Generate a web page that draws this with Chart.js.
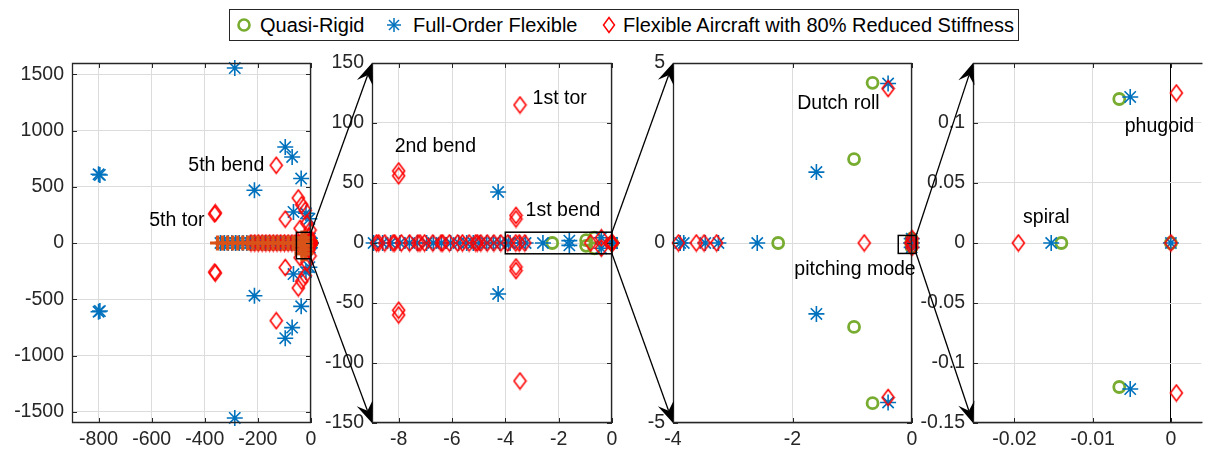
<!DOCTYPE html>
<html>
<head>
<meta charset="utf-8">
<script src="https://cdn.jsdelivr.net/npm/chart.js@4.4.1/dist/chart.umd.min.js"></script>
<style>
  body { margin: 0; background: #fff; width: 1211px; height: 449px; overflow: hidden; position: relative;
         font-family: "Liberation Sans", Arial, Helvetica, sans-serif; }
  canvas { position: absolute; top: 0; }
  #legend { position: absolute; left: 229px; top: 9px; width: 788px; height: 30px; border: 1px solid #262626; background: #fff; z-index: 20; }
  #legend .item { position: absolute; top: 0; height: 30px; line-height: 30px; font-size: 20px; color: #000; white-space: nowrap; }
  #legend svg { position: absolute; top: 7px; }
</style>
</head>
<body>
<div id="legend"></div>
<script>
// ---- data (pole locations, [real, imag]) ----
const seriesNames = ['Quasi-Rigid', 'Full-Order Flexible', 'Flexible Aircraft with 80% Reduced Stiffness'];

const quasiRigid = [
  [-2.24, 0], [-0.97, 2.33], [-0.97, -2.33], [-0.66, 4.45], [-0.66, -4.45],
  [-0.014, 0], [-0.0066, 0.12], [-0.0066, -0.12], [0, 0]
];

const fullOrderFlexible = [
  [-800, 611], [-800, -611], [-795, 605], [-795, -605], [-287, 1555], [-287, -1555],
  [-97, 854], [-97, -846], [-71, 765], [-71, -752], [-213, 469], [-213, -469],
  [-37, 573], [-37, -563], [-66, 276], [-66, -276], [-19, 264], [-19, -258], [-6, 215], [-6, -215],
  [-341, 0], [-326, 0], [-312, 0], [-298, 0], [-284, 0], [-270, 0], [-256, 0], [-242, 0], [-228, 0],
  [-214, 0], [-200, 0], [-186, 0], [-172, 0], [-158, 0], [-144, 0], [-130, 0], [-116, 0], [-102, 0],
  [-88, 0], [-74, 0], [-60, 0], [-46, 0], [-32, 0], [-20, 0],
  [-4.27, 42.5], [-4.27, -42.5],
  [-8.94, 0], [-8.6, 0], [-8.3, 0], [-7.95, 0], [-7.6, 0], [-7.3, 0], [-6.95, 0], [-6.7, 0], [-6.4, 0],
  [-6.05, 0], [-5.75, 0], [-5.45, 0], [-5.2, 0], [-4.95, 0], [-4.7, 0], [-4.45, 0], [-4.2, 0],
  [-3.88, 0], [-3.82, 0], [-3.46, 0], [-3.24, 0], [-2.59, 0],
  [-1.6, 1.97], [-1.6, -1.97], [-0.4, 4.43], [-0.4, -4.43],
  [-0.0153, 0], [-0.0052, 0.1217], [-0.0052, -0.1217], [0, 0]
];

const reducedStiffness = [
  [-131, 691], [-131, -691], [-360, 267], [-360, -267], [-363, 258], [-363, -258],
  [-48, 400], [-48, -400], [-35, 340], [-35, -340], [-22, 291], [-22, -291],
  [-97, 212], [-97, -218], [-16, 175], [-16, -175], [-41, 130], [-41, -130],
  [-226, 0], [-212, 0], [-198, 0], [-184, 0], [-170, 0], [-156, 0], [-142, 0], [-128, 0],
  [-114, 0], [-100, 0], [-86, 0], [-72, 0], [-60, 0], [-50, 0],
  [-8.0, 60], [-8.0, -60], [-8.0, 56], [-8.0, -56], [-3.45, 115], [-3.45, -115],
  [-3.6, 23], [-3.6, -23], [-3.6, 20], [-3.6, -20],
  [-8.83, 0], [-8.75, 0], [-8.52, 0], [-8.21, 0], [-8.15, 0], [-7.9, 0], [-7.59, 0], [-7.28, 0],
  [-7.2, 0], [-7.03, 0], [-6.72, 0], [-6.41, 0], [-6.35, 0], [-6.1, 0], [-5.79, 0], [-5.61, 0],
  [-5.36, 0], [-5.11, 0], [-5.05, 0], [-4.92, 0], [-4.68, 0], [-4.43, 0], [-4.17, 0],
  [-3.91, 0], [-3.61, 0], [-3.48, 0], [-3.27, 0],
  [-0.8, 0], [-0.4, 4.29], [-0.4, -4.29],
  [-0.0195, 0], [0.0007, 0.125], [0.0007, -0.125], [0, 0]
];

// extra markers only shown in the first (full view) panel
const fullViewExtra = [
  [-352, 0], [-333, 0], [-314, 0], [-295, 0], [-276, 0], [-257, 0], [-238, 0], [-219, 0],
  [-200, 0], [-181, 0], [-162, 0], [-143, 0], [-124, 0], [-105, 0], [-86, 0], [-67, 0],
  [-34, 45], [-20, 45], [-34, 10], [-20, 10], [-34, -25], [-20, -25],
  [-34, -60], [-20, -60], [-34, -95], [-20, -95]
];

// axis ticks per panel
const xTicks1 = [-800, -600, -400, -200, 0];
const yTicks1 = [-1500, -1000, -500, 0, 500, 1000, 1500];
const xTicks2 = [-8, -6, -4, -2, 0];
const yTicks2 = [-150, -100, -50, 0, 50, 100, 150];
const xTicks3 = [-4, -2, 0];
const yTicks3 = [-5, 0, 5];
const xTicks4 = [-0.02, -0.01, 0];
const yTicks4 = [-0.15, -0.1, -0.05, 0, 0.05, 0.1];

// ---- layout ----
const FONT = "'Liberation Sans', Arial, Helvetica, sans-serif";
const panels = [
  { left: 0, width: 330, yWidth: 72, padRight: 19, xMin: -900, xMax: 0, yMin: -1600, yMax: 1600,
    xTicks: xTicks1, yTicks: yTicks1, zoomBox: [-55, 0, -140, 95],
    notes: [{ t: '5th bend', x: -176, y: 691, a: 'right' }, { t: '5th tor', x: -401, y: 202, a: 'right' }] },
  { left: 315, width: 320, yWidth: 57, padRight: 23, xMin: -9, xMax: 0, yMin: -150, yMax: 150,
    xTicks: xTicks2, yTicks: yTicks2, zoomBox: [-4, 0, -9, 9],
    notes: [{ t: '2nd bend', x: -8.15, y: 80 }, { t: '1st tor', x: -2.98, y: 120 }, { t: '1st bend', x: -3.24, y: 27 }] },
  { left: 630, width: 300, yWidth: 43, padRight: 18, xMin: -4, xMax: 0, yMin: -5, yMax: 5,
    xTicks: xTicks3, yTicks: yTicks3, zoomBox: [-0.23, 0.07, -0.29, 0.21],
    notes: [{ t: 'Dutch roll', x: -1.92, y: 3.88 }, { t: 'pitching mode', x: -1.97, y: -0.73 }] },
  { left: 915, width: 296, yWidth: 58, padRight: 0, xMin: -0.0253, xMax: 0.0039, yMin: -0.15, yMax: 0.15,
    xTicks: xTicks4, yTicks: yTicks4, zoomBox: null, openRight: true, zeroLine: true,
    notes: [{ t: 'spiral', x: -0.0189, y: 0.0208 }, { t: 'phugoid', x: -0.0059, y: 0.0973 }] }
];

// taller MATLAB-like diamond marker
function diamondMarker() {
  const c = document.createElement('canvas');
  c.width = 15; c.height = 19;
  const g = c.getContext('2d');
  g.strokeStyle = '#ff0000'; g.lineWidth = 1.6;
  g.beginPath();
  g.moveTo(7.5, 1.5); g.lineTo(13.5, 9.5); g.lineTo(7.5, 17.5); g.lineTo(1.5, 9.5); g.closePath();
  g.stroke();
  return c;
}
const diamond = diamondMarker();

function pick(list, p) {
  const tx = (p.xMax - p.xMin) * 0.01, ty = (p.yMax - p.yMin) * 0.01;
  return list.filter(([x, y]) => x >= p.xMin - tx && x <= p.xMax + tx && y >= p.yMin - ty && y <= p.yMax + ty)
             .map(([x, y]) => ({ x, y }));
}

function framePlugin(p) {
  return {
    id: 'frame',
    afterDraw(chart) {
      const { ctx, chartArea: a, scales: { x, y } } = chart;
      ctx.save();
      ctx.strokeStyle = '#262626';
      ctx.lineWidth = 1;
      ctx.beginPath();
      p.xTicks.forEach(v => {
        const px = Math.round(x.getPixelForValue(v)) + 0.5;
        ctx.moveTo(px, a.bottom); ctx.lineTo(px, a.bottom - 5);
        ctx.moveTo(px, a.top); ctx.lineTo(px, a.top + 5);
      });
      p.yTicks.forEach(v => {
        const py = Math.round(y.getPixelForValue(v)) + 0.5;
        ctx.moveTo(a.left, py); ctx.lineTo(a.left + 5, py);
        if (!p.openRight) { ctx.moveTo(a.right, py); ctx.lineTo(a.right - 5, py); }
      });
      ctx.stroke();
      ctx.lineWidth = 1.3;
      ctx.beginPath();
      const L = Math.round(a.left) + 0.5, R = Math.round(a.right) - 0.5, T = Math.round(a.top) + 0.5, B = Math.round(a.bottom) - 0.5;
      if (p.openRight) {
        ctx.moveTo(R + 2, T); ctx.lineTo(L, T); ctx.lineTo(L, B); ctx.lineTo(R + 2, B);
      } else {
        ctx.rect(L, T, R - L, B - T);
      }
      ctx.stroke();
      // zoom box
      if (p.zoomBox) {
        const [x0, x1, y0, y1] = p.zoomBox;
        ctx.strokeStyle = '#000';
        ctx.lineWidth = 1.5;
        const X0 = x.getPixelForValue(x0), X1 = x.getPixelForValue(x1);
        const Y0 = y.getPixelForValue(y0), Y1 = y.getPixelForValue(y1);
        ctx.strokeRect(X0, Y1, X1 - X0, Y0 - Y1);
      }
      // annotations
      ctx.fillStyle = '#000';
      ctx.font = '19.5px ' + FONT;
      ctx.textBaseline = 'middle';
      p.notes.forEach(n => {
        ctx.textAlign = n.a || 'left';
        ctx.fillText(n.t, x.getPixelForValue(n.x), y.getPixelForValue(n.y));
      });
      ctx.restore();
    }
  };
}

const charts = panels.map((p, i) => {
  const cv = document.createElement('canvas');
  cv.width = p.width; cv.height = 449;
  cv.style.left = p.left + 'px';
  document.body.appendChild(cv);

  const datasets = [];
  if (i === 0) {
    datasets.push({ data: pick(fullViewExtra, p), pointStyle: 'cross', pointRadius: 7.5,
                    borderColor: '#D95319', backgroundColor: '#D95319', borderWidth: 3.2 });
  }
  datasets.push({ label: seriesNames[2], data: pick(reducedStiffness, p), pointStyle: diamond, pointRadius: 7,
                  borderColor: '#ff0000', backgroundColor: 'rgba(0,0,0,0)' });
  datasets.push({ label: seriesNames[1], data: pick(fullOrderFlexible, p), pointStyle: 'star', pointRadius: 8,
                  borderColor: '#0072BD', backgroundColor: '#0072BD', borderWidth: 1.6 });
  datasets.push({ label: seriesNames[0], data: pick(quasiRigid, p), pointStyle: 'circle', pointRadius: 5.5,
                  borderColor: '#77AC30', backgroundColor: 'rgba(0,0,0,0)', borderWidth: 2.8 });
  datasets.forEach(d => { d.clip = 12; d.pointHoverRadius = d.pointRadius; });

  const gridColor = ctx => (p.zeroLine && ctx.tick && ctx.tick.value === 0) ? '#000' : '#dcdcdc';

  return new Chart(cv, {
    type: 'scatter',
    data: { datasets },
    options: {
      responsive: false,
      animation: false,
      devicePixelRatio: 1,
      events: [],
      layout: { padding: { left: 0, right: p.padRight, top: 63, bottom: 0 } },
      plugins: { legend: { display: false }, tooltip: { enabled: false } },
      scales: {
        x: {
          type: 'linear', min: p.xMin, max: p.xMax,
          afterBuildTicks: s => { s.ticks = p.xTicks.map(v => ({ value: v })); },
          afterFit: s => { s.height = 26; s.paddingLeft = 0; s.paddingRight = 0; },
          grid: { color: gridColor, lineWidth: 1, drawTicks: false },
          border: { display: false },
          ticks: { color: '#262626', font: { family: FONT, size: 19.5 }, padding: 5,
                   maxRotation: 0, autoSkip: false, callback: v => String(v) }
        },
        y: {
          type: 'linear', min: p.yMin, max: p.yMax,
          afterBuildTicks: s => { s.ticks = p.yTicks.map(v => ({ value: v })); },
          afterFit: s => { s.width = p.yWidth; s.paddingTop = 0; s.paddingBottom = 0; },
          grid: { color: '#dcdcdc', lineWidth: 1, drawTicks: false },
          border: { display: false },
          ticks: { color: '#262626', font: { family: FONT, size: 19.5 }, padding: 8,
                   autoSkip: false, callback: v => String(v) }
        }
      }
    },
    plugins: [framePlugin(p)]
  });
});

// ---- zoom arrows between panels ----
const ov = document.createElement('canvas');
ov.width = 1211; ov.height = 449;
ov.style.left = '0px'; ov.style.zIndex = 10; ov.style.pointerEvents = 'none';
document.body.appendChild(ov);
const g = ov.getContext('2d');
g.strokeStyle = '#000'; g.fillStyle = '#000'; g.lineWidth = 1.3;

function arrow(x1, y1, x2, y2) {
  const ang = Math.atan2(y2 - y1, x2 - x1), c = Math.cos(ang), s = Math.sin(ang);
  const Lh = 21, W = 8.5, N = 13;
  g.beginPath(); g.moveTo(x1, y1); g.lineTo(x2 - c * N, y2 - s * N); g.stroke();
  const bx = x2 - c * Lh, by = y2 - s * Lh;
  g.beginPath();
  g.moveTo(x2, y2);
  g.lineTo(bx - s * W, by + c * W);
  g.lineTo(x2 - c * N, y2 - s * N);
  g.lineTo(bx + s * W, by - c * W);
  g.closePath(); g.fill();
}

panels.forEach((p, i) => {
  if (!p.zoomBox) return;
  const c = charts[i], n = charts[i + 1], q = panels[i + 1];
  const xs = p.left + c.scales.x.getPixelForValue(p.zoomBox[1]);
  const yT = c.scales.y.getPixelForValue(p.zoomBox[3]);
  const yB = c.scales.y.getPixelForValue(p.zoomBox[2]);
  const xe = q.left + n.chartArea.left;
  arrow(xs, yT, xe, n.chartArea.top);
  arrow(xs, yB, xe, n.chartArea.bottom);
});

// ---- legend ----
const legend = document.getElementById('legend');
const markerSvg = [
  '<svg width="16" height="16"><circle cx="8" cy="8" r="5.5" fill="none" stroke="#77AC30" stroke-width="2.6"/></svg>',
  '<svg width="16" height="16"><g stroke="#0072BD" stroke-width="1.5"><line x1="8" y1="1" x2="8" y2="15"/><line x1="1" y1="8" x2="15" y2="8"/><line x1="3" y1="3" x2="13" y2="13"/><line x1="13" y1="3" x2="3" y2="13"/></g></svg>',
  '<svg width="16" height="18" style="top:6px"><polygon points="8,1.5 13.5,9 8,16.5 2.5,9" fill="none" stroke="#ff0000" stroke-width="1.5"/></svg>'
];
const legendPos = [[6, 30], [156, 183], [371, 393]]; // [marker left, text left]
seriesNames.forEach((name, k) => {
  const m = document.createElement('div');
  m.innerHTML = markerSvg[k];
  m.firstChild.style.left = legendPos[k][0] + 'px';
  legend.appendChild(m.firstChild);
  const t = document.createElement('span');
  t.className = 'item';
  t.style.left = legendPos[k][1] + 'px';
  t.textContent = name;
  legend.appendChild(t);
});
</script>
</body>
</html>
